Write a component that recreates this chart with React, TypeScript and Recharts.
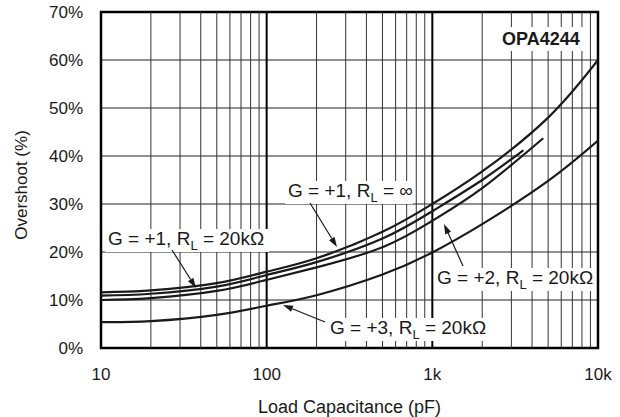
import React from 'react';
import { LineChart, Line, XAxis, YAxis, CartesianGrid, ReferenceLine, ReferenceArea, Label } from 'recharts';

// load capacitance (pF) / overshoot (%)
const capG1Inf = [10, 20, 50, 100, 200, 500, 1000, 2000, 5000, 10000];
const ovG1Inf = [11.6, 12.0, 13.5, 15.9, 18.7, 24.2, 30.0, 36.8, 48.0, 60.0];

const capG1 = [10, 20, 50, 100, 200, 500, 1000, 2000, 3540];
const ovG1 = [10.9, 11.3, 12.8, 15.2, 17.9, 22.8, 28.5, 35.0, 41.2];

const capG2 = [10, 20, 50, 100, 200, 500, 1000, 2000, 4670];
const ovG2 = [10.0, 10.4, 11.9, 14.2, 16.8, 21.0, 26.5, 33.3, 43.7];

const capG3 = [10, 20, 50, 100, 200, 500, 1000, 2000, 5000, 10000];
const ovG3 = [5.4, 5.6, 6.9, 8.8, 11.0, 15.3, 19.9, 25.8, 34.8, 43.2];

const xTicks = [10, 100, 1000, 10000];
const xTickLabels = ['10', '100', '1k', '10k'];
const xDecades = [100, 1000];
const xMinor = [20, 30, 40, 50, 60, 70, 80, 90, 200, 300, 400, 500, 600, 700, 800, 900, 2000, 3000, 4000, 5000, 6000, 7000, 8000, 9000];
const yTicks = [0, 10, 20, 30, 40, 50, 60, 70];

const toPoints = (xs: number[], ys: number[]) => xs.map((x, i) => ({ x, y: ys[i] }));

const FONT = '"Liberation Sans", Arial, Helvetica, sans-serif';
const INK = '#1a1a1a';

const Arrow = ({ x1, y1, x2, y2 }: { x1: number; y1: number; x2: number; y2: number }) => {
  const a = Math.atan2(y2 - y1, x2 - x1);
  const len = 10;
  const w = 3.2;
  const bx = x2 - len * Math.cos(a);
  const by = y2 - len * Math.sin(a);
  const px = -Math.sin(a) * w;
  const py = Math.cos(a) * w;
  return (
    <g>
      <line x1={x1} y1={y1} x2={bx} y2={by} stroke={INK} strokeWidth={1.2} />
      <polygon points={`${x2},${y2} ${bx + px},${by + py} ${bx - px},${by - py}`} fill={INK} />
    </g>
  );
};

const Note = ({ x, y, g, r, w }: { x: number; y: number; g: string; r: string; w: number }) => (
  <g>
    <rect x={x - 3} y={y - 16} width={w} height={23} fill="#fff" />
    <text x={x} y={y} fontSize={19} fontFamily={FONT} fill={INK}>
      {`G = ${g}, R`}
      <tspan fontSize={13} dy={5}>L</tspan>
      <tspan dy={-5}>{` = ${r}`}</tspan>
    </text>
  </g>
);

export default function App() {
  const tick = { fontSize: 17, fill: INK, fontFamily: FONT };
  return (
    <div style={{ position: 'absolute', left: 0, top: 0, width: 620, height: 417, background: '#fff' }}>
      <LineChart width={620} height={417} margin={{ top: 12, right: 22, bottom: 0, left: 0 }}>
        <CartesianGrid vertical={false} stroke="#222" strokeWidth={1.2} />
        {xMinor.map((v) => (
          <ReferenceLine key={v} x={v} stroke="#333" strokeWidth={1} />
        ))}
        {xDecades.map((v) => (
          <ReferenceLine key={v} x={v} stroke="#000" strokeWidth={2} />
        ))}
        <XAxis
          type="number"
          dataKey="x"
          scale="log"
          domain={[10, 10000]}
          ticks={xTicks}
          tickFormatter={(v: number) => xTickLabels[xTicks.indexOf(v)] ?? ''}
          axisLine={false}
          tickLine={false}
          tickSize={0}
          tickMargin={20}
          height={69}
          tick={tick}
          allowDataOverflow
        >
          <Label
            content={({ viewBox }: any) => (
              <text
                x={viewBox.x + viewBox.width / 2}
                y={407}
                textAnchor="middle"
                dominantBaseline="central"
                fontSize={18}
                fontFamily={FONT}
                fill={INK}
              >
                Load Capacitance (pF)
              </text>
            )}
          />
        </XAxis>
        <YAxis
          type="number"
          domain={[0, 70]}
          ticks={yTicks}
          tickFormatter={(v: number) => `${v}%`}
          axisLine={false}
          tickLine={false}
          tickSize={0}
          tickMargin={18}
          width={101}
          tick={tick}
          allowDataOverflow
        >
          <Label
            content={() => (
              <text
                x={21}
                y={185}
                transform="rotate(-90 21 185)"
                textAnchor="middle"
                dominantBaseline="central"
                fontSize={17}
                fontFamily={FONT}
                fill={INK}
              >
                Overshoot (%)
              </text>
            )}
          />
        </YAxis>
        <Line data={toPoints(capG1Inf, ovG1Inf)} dataKey="y" type="natural" stroke={INK} strokeWidth={2.2} dot={false} isAnimationActive={false} />
        <Line data={toPoints(capG1, ovG1)} dataKey="y" type="natural" stroke={INK} strokeWidth={2.2} dot={false} isAnimationActive={false} />
        <Line data={toPoints(capG2, ovG2)} dataKey="y" type="natural" stroke={INK} strokeWidth={2.2} dot={false} isAnimationActive={false} />
        <Line data={toPoints(capG3, ovG3)} dataKey="y" type="natural" stroke={INK} strokeWidth={2.2} dot={false} isAnimationActive={false} />
        <ReferenceArea x1={10} x2={10000} y1={0} y2={70} fill="none" stroke="#000" strokeWidth={2.5} fillOpacity={0} ifOverflow="visible" />
      </LineChart>
      <svg width={620} height={417} style={{ position: 'absolute', left: 0, top: 0, pointerEvents: 'none' }}>
        <rect x={498} y={27} width={90} height={24} fill="#fff" />
        <text x={502} y={44.5} fontSize={18} fontWeight="bold" fontFamily={FONT} fill={INK}>OPA4244</text>

        <Note x={288} y={197} g="+1" r="∞" w={128} />
        <Arrow x1={310} y1={203} x2={337} y2={247} />

        <Note x={108} y={245} g="+1" r="20kΩ" w={164} />
        <Arrow x1={172} y1={250} x2={196} y2={288} />

        <Note x={437} y={284} g="+2" r="20kΩ" w={158} />
        <Arrow x1={463} y1={266} x2={444} y2={224} />

        <Note x={330} y={334} g="+3" r="20kΩ" w={160} />
        <Arrow x1={325} y1={322} x2={283} y2={305} />
      </svg>
    </div>
  );
}
